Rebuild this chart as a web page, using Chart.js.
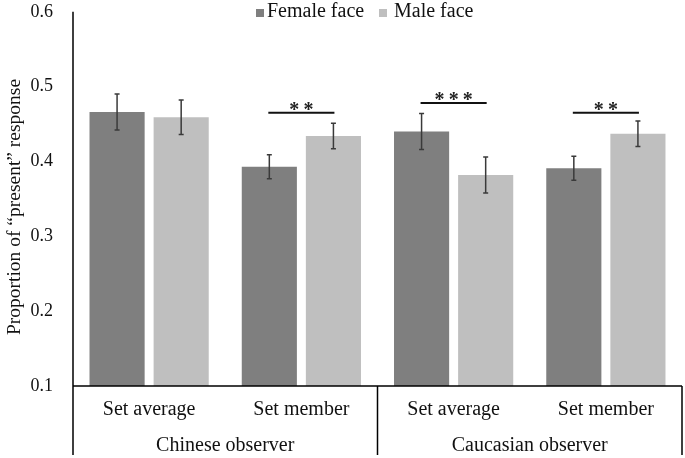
<!DOCTYPE html>
<html>
<head>
<meta charset="utf-8">
<script src="https://cdn.jsdelivr.net/npm/chart.js@4"></script>
<style>
html,body{margin:0;padding:0;background:#fff;}
#wrap{width:685px;height:458px;position:relative;}
</style>
</head>
<body>
<div id="wrap"><canvas id="c" width="685" height="458"></canvas></div>
<script>
// ---- data ----
const categories = ['Set average', 'Set member', 'Set average', 'Set member'];
const groupLabels = ['Chinese observer', 'Caucasian observer'];
const seriesNames = ['Female face', 'Male face'];
const femaleValues = [0.466, 0.393, 0.440, 0.391];
const maleValues = [0.459, 0.434, 0.382, 0.437];
const femaleErr = [0.024, 0.016, 0.024, 0.016];
const maleErr = [0.023, 0.017, 0.024, 0.017];
const sigCategory = [1, 2, 3];
const sigLevel = ['**', '***', '**'];
const sigHeight = [0.465, 0.478, 0.465];
const yTicks = [0.1, 0.2, 0.3, 0.4, 0.5, 0.6];
const yTitle = 'Proportion of \u201Cpresent\u201D response';

const FONT = 'Liberation Serif';
const DARK = '#7f7f7f', LIGHT = '#bfbfbf';

const overlay = {
  id: 'overlay',
  afterDatasetsDraw(chart) {
    const ctx = chart.ctx;
    const y = chart.scales.y;
    const errs = [femaleErr, maleErr];
    const vals = [femaleValues, maleValues];
    ctx.save();
    // error bars
    ctx.strokeStyle = '#3a3a3a';
    ctx.lineWidth = 1.5;
    for (let d = 0; d < 2; d++) {
      const meta = chart.getDatasetMeta(d);
      meta.data.forEach((bar, i) => {
        const top = y.getPixelForValue(vals[d][i] + errs[d][i]);
        const bot = y.getPixelForValue(vals[d][i] - errs[d][i]);
        ctx.beginPath();
        ctx.moveTo(bar.x, top); ctx.lineTo(bar.x, bot);
        ctx.moveTo(bar.x - 2.5, top); ctx.lineTo(bar.x + 2.5, top);
        ctx.moveTo(bar.x - 2.5, bot); ctx.lineTo(bar.x + 2.5, bot);
        ctx.stroke();
      });
    }
    // significance
    ctx.strokeStyle = '#111';
    ctx.fillStyle = '#222';
    ctx.lineWidth = 2;
    sigCategory.forEach((c, k) => {
      const x1 = chart.getDatasetMeta(0).data[c].x;
      const x2 = chart.getDatasetMeta(1).data[c].x;
      const ly = y.getPixelForValue(sigHeight[k]);
      ctx.beginPath();
      ctx.moveTo(x1 - 1, ly); ctx.lineTo(x2 + 1, ly);
      ctx.stroke();
      ctx.font = 'bold 20px "' + FONT + '"';
      ctx.textAlign = 'center';
      ctx.textBaseline = 'alphabetic';
      ctx.fillText(sigLevel[k].split('').join('\u2009'), (x1 + x2) / 2, ly + 3);
    });
    ctx.restore();
  },
  afterDraw(chart) {
    const ctx = chart.ctx;
    const a = chart.chartArea;
    const x = chart.scales.x;
    const bottom = 455;
    ctx.save();
    // axes lines
    ctx.strokeStyle = '#000';
    ctx.lineWidth = 1.5;
    ctx.beginPath();
    ctx.moveTo(a.left, a.top); ctx.lineTo(a.left, bottom);
    ctx.moveTo(a.left, a.bottom); ctx.lineTo(a.right, a.bottom);
    ctx.moveTo(a.right, a.bottom); ctx.lineTo(a.right, bottom);
    const mid = (x.getPixelForValue(1) + x.getPixelForValue(2)) / 2;
    ctx.moveTo(mid, a.bottom); ctx.lineTo(mid, bottom);
    ctx.stroke();
    // category labels
    ctx.fillStyle = '#111';
    ctx.font = '20px "' + FONT + '"';
    ctx.textAlign = 'center';
    ctx.textBaseline = 'middle';
    categories.forEach((c, i) => ctx.fillText(c, x.getPixelForValue(i), 410));
    ctx.fillText(groupLabels[0], (a.left + mid) / 2, 446);
    ctx.fillText(groupLabels[1], (mid + a.right) / 2, 446);
    // y title
    ctx.save();
    ctx.font = '19.5px "' + FONT + '"';
    ctx.translate(15, 207);
    ctx.rotate(-Math.PI / 2);
    ctx.fillText(yTitle, 0, 0);
    ctx.restore();
    // legend
    ctx.font = '20px "' + FONT + '"';
    const items = [[256, 267, DARK], [379, 394, LIGHT]];
    items.forEach((it, k) => {
      ctx.fillStyle = it[2];
      ctx.fillRect(it[0], 9, 8, 8);
      ctx.fillStyle = '#111';
      ctx.textAlign = 'left';
      ctx.textBaseline = 'alphabetic';
      ctx.fillText(seriesNames[k], it[1], 17);
    });
    ctx.restore();
  }
};

new Chart(document.getElementById('c'), {
  type: 'bar',
  data: {
    labels: categories,
    datasets: [
      { label: seriesNames[0], data: femaleValues, backgroundColor: DARK, borderWidth: 0 },
      { label: seriesNames[1], data: maleValues, backgroundColor: LIGHT, borderWidth: 0 }
    ]
  },
  options: {
    responsive: false,
    animation: false,
    devicePixelRatio: 1,
    layout: { padding: { top: 0, right: 3, left: 0, bottom: 0 } },
    datasets: { bar: { categoryPercentage: 0.842, barPercentage: 0.86 } },
    plugins: { legend: { display: false }, tooltip: { enabled: false } },
    scales: {
      x: {
        grid: { display: false, drawTicks: false },
        border: { display: false },
        ticks: { display: false },
        afterFit: s => { s.height = 72; }
      },
      y: {
        min: 0.1, max: 0.6,
        grid: { display: false, drawTicks: true, tickLength: 19 },
        border: { display: false },
        afterBuildTicks: s => { s.ticks = yTicks.map(v => ({ value: v })); },
        ticks: {
          padding: 1,
          color: '#111',
          font: { family: FONT, size: 18 },
          callback: v => v.toFixed(1)
        },
        afterFit: s => { s.width = 73; }
      }
    }
  },
  plugins: [overlay]
});
</script>
</body>
</html>
